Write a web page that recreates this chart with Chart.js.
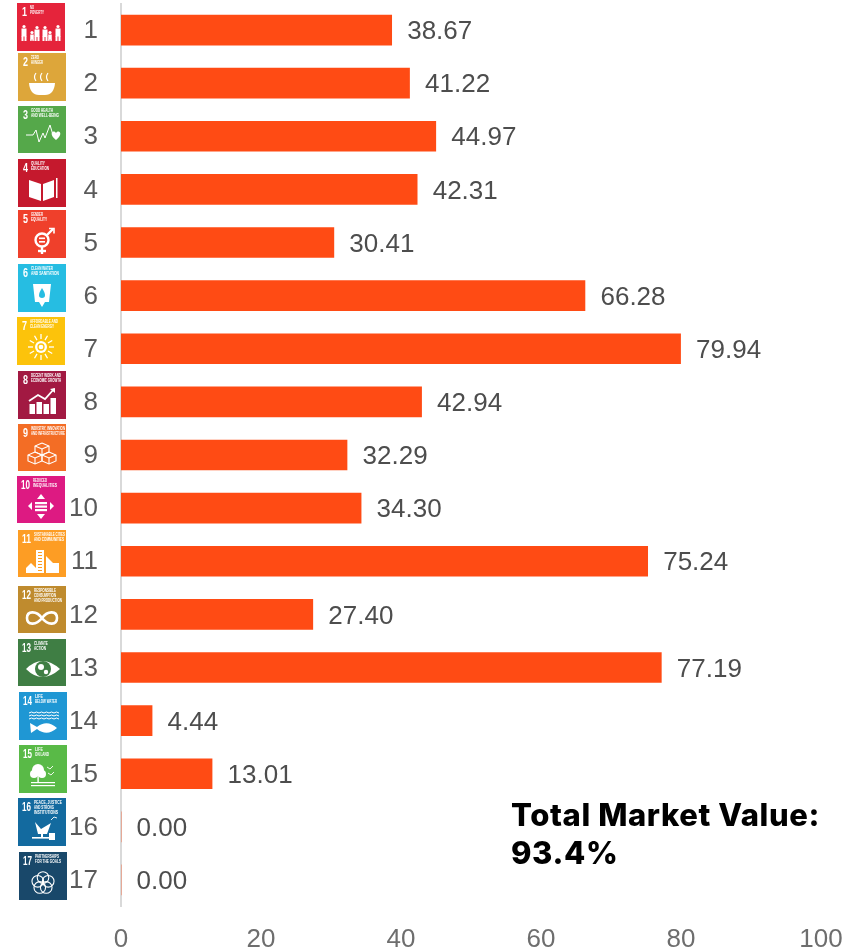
<!DOCTYPE html>
<html>

<head>
  <title>SDG Market Value</title>
  <meta charset="UTF-8">
  <style type="text/css">
    html, body { margin: 0; padding: 0; background: #fff; }
    canvas { display: block; }
  </style>
  <script src="https://cdn.jsdelivr.net/npm/chart.js"></script>
</head>

<body>
  <canvas id="graphCanvas" width="864" height="950"></canvas>

  <script>
    const goals = ['1', '2', '3', '4', '5', '6', '7', '8', '9', '10', '11', '12', '13', '14', '15', '16', '17'];
    const marketValue = [38.67, 41.22, 44.97, 42.31, 30.41, 66.28, 79.94, 42.94, 32.29, 34.30, 75.24, 27.40, 77.19, 4.44, 13.01, 0, 0];
    const xTicks = [0, 20, 40, 60, 80, 100];
    const totalLines = ['Total Market Value:', '93.4%'];

    const tileTitles = [
      ['NO', 'POVERTY'], ['ZERO', 'HUNGER'], ['GOOD HEALTH', 'AND WELL-BEING'], ['QUALITY', 'EDUCATION'],
      ['GENDER', 'EQUALITY'], ['CLEAN WATER', 'AND SANITATION'], ['AFFORDABLE AND', 'CLEAN ENERGY'],
      ['DECENT WORK AND', 'ECONOMIC GROWTH'], ['INDUSTRY, INNOVATION', 'AND INFRASTRUCTURE'],
      ['REDUCED', 'INEQUALITIES'], ['SUSTAINABLE CITIES', 'AND COMMUNITIES'],
      ['RESPONSIBLE', 'CONSUMPTION', 'AND PRODUCTION'], ['CLIMATE', 'ACTION'], ['LIFE', 'BELOW WATER'],
      ['LIFE', 'ON LAND'], ['PEACE, JUSTICE', 'AND STRONG', 'INSTITUTIONS'], ['PARTNERSHIPS', 'FOR THE GOALS']
    ];
    const tileColors = ['#E5243B', '#DDA63A', '#55A84A', '#C5192D', '#EF402B', '#26BDE2', '#FCC30B', '#A21942', '#F36D25',
      '#DD1A82', '#FD9D24', '#BF8B2E', '#3F7E44', '#1F97D4', '#59BA47', '#136A9F', '#19486A'];
    // left, top, height of each tile, nudged by hand
    const tileX = [17, 18, 18, 18, 18, 18, 17, 18, 18, 17, 18, 18, 18, 19, 19, 18, 19];
    const tileY = [3, 53, 106, 159, 210, 264, 317, 371, 424, 476, 530, 586, 639, 692, 745, 798, 852];
    const tileH = [48, 48, 47, 48, 48, 48, 48, 48, 47, 47, 47, 47, 47, 48, 48, 48, 48];

    const numberFont = '"Liberation Sans"';

    function circle(c, x, y, r, fill) {
      c.beginPath();
      c.arc(x, y, r, 0, Math.PI * 2);
      if (fill) c.fill(); else c.stroke();
    }

    function poly(c, pts, fill) {
      c.beginPath();
      pts.forEach(function(p, i) {
        if (i) c.lineTo(p[0], p[1]); else c.moveTo(p[0], p[1]);
      });
      if (fill) { c.closePath(); c.fill(); } else c.stroke();
    }

    function person(c, x, h, w) {
      const top = 38 - h;
      circle(c, x, top + 1.5, 1.6, true);
      c.fillRect(x - w / 2, top + 3.5, w, h * 0.5);
      c.fillRect(x - w / 2, top + 3 + h * 0.5, w * 0.4, h * 0.5 - 3);
      c.fillRect(x + w * 0.1, top + 3 + h * 0.5, w * 0.4, h * 0.5 - 3);
    }

    // one small white pictogram per goal, drawn in a 48 unit box
    const glyphs = [
      function(c) {
        [7, 15, 20, 28, 33, 41].forEach(function(x, i) {
          person(c, x, [16, 10, 15, 15, 10, 16][i], [5, 3.5, 5, 5, 3.5, 5][i]);
        });
      },
      function(c) {
        c.beginPath(); c.moveTo(11, 30); c.lineTo(37, 30); c.quadraticCurveTo(36, 42, 27, 42); c.lineTo(21, 42); c.quadraticCurveTo(12, 42, 11, 30); c.fill();
        c.lineWidth = 1.2;
        [18, 24, 30].forEach(function(x) { c.beginPath(); c.moveTo(x, 28); c.quadraticCurveTo(x - 3, 24, x, 20); c.stroke(); });
      },
      function(c) {
        c.lineWidth = 1;
        poly(c, [[8, 29], [15, 29], [18, 24], [21, 36], [25, 27], [27, 32], [32, 19], [35, 29]]);
        c.beginPath(); c.moveTo(38, 34); c.bezierCurveTo(30, 28, 35, 23, 38, 27); c.bezierCurveTo(41, 23, 46, 28, 38, 34); c.fill();
      },
      function(c) {
        c.lineWidth = 1;
        poly(c, [[11, 21], [23, 25], [23, 42], [11, 38]], true);
        poly(c, [[25, 25], [36, 21], [36, 38], [25, 42]], true);
        c.fillRect(38, 19, 1.5, 20);
      },
      function(c) {
        c.lineWidth = 2.4;
        circle(c, 24, 30, 6.5, false);
        poly(c, [[24, 37], [24, 44]]);
        poly(c, [[20, 41], [28, 41]]);
        poly(c, [[29, 25], [35, 19]]);
        c.lineWidth = 1.6;
        poly(c, [[31, 18.5], [36, 18.5], [36, 23.5]]);
        c.fillRect(21, 27.5, 6, 1.6);
        c.fillRect(21, 31, 6, 1.6);
      },
      function(c) {
        poly(c, [[15, 20], [33, 20], [31, 38], [27, 38], [24, 43], [21, 38], [17, 38]], true);
        c.fillStyle = '#26BDE2';
        c.beginPath(); c.moveTo(24, 24); c.bezierCurveTo(20, 30, 20, 34, 24, 34); c.bezierCurveTo(28, 34, 28, 30, 24, 24); c.fill();
      },
      function(c) {
        c.lineWidth = 1.3;
        for (let i = 0; i < 12; i++) {
          const a = i * Math.PI / 6;
          poly(c, [[24 + Math.cos(a) * 8, 30 + Math.sin(a) * 8], [24 + Math.cos(a) * 13, 30 + Math.sin(a) * 13]]);
        }
        circle(c, 24, 30, 6, true);
        c.strokeStyle = '#FCC30B';
        circle(c, 24, 30, 3, false);
      },
      function(c) {
        [14, 21, 28, 35].forEach(function(x, i) { c.fillRect(x - 2.5, [33, 31, 33, 27][i], 5.5, 43 - [33, 31, 33, 27][i]); });
        c.lineWidth = 1.8;
        poly(c, [[11, 30], [20, 24], [27, 28], [36, 18]]);
        poly(c, [[32, 18], [37, 17], [37, 22]], true);
      },
      function(c) {
        c.lineWidth = 1.1;
        [[24, 24], [17, 33], [31, 33]].forEach(function(p) {
          const x = p[0], y = p[1];
          poly(c, [[x, y - 5], [x + 7, y - 2], [x + 7, y + 4], [x, y + 7], [x - 7, y + 4], [x - 7, y - 2], [x, y - 5]]);
          poly(c, [[x - 7, y - 2], [x, y + 1], [x + 7, y - 2]]);
          poly(c, [[x, y + 1], [x, y + 7]]);
        });
      },
      function(c) {
        c.fillRect(18, 26, 12, 2.2);
        c.fillRect(18, 29.5, 12, 2.2);
        c.fillRect(18, 33, 12, 2.2);
        poly(c, [[24, 18], [28, 23], [20, 23]], true);
        poly(c, [[24, 43], [28, 38], [20, 38]], true);
        poly(c, [[11, 30], [15, 26], [15, 34]], true);
        poly(c, [[37, 30], [33, 26], [33, 34]], true);
      },
      function(c) {
        c.fillRect(18, 20, 8, 23);
        c.fillStyle = '#FD9D24';
        for (let y = 22; y < 42; y += 3) c.fillRect(20, y, 4, 1);
        c.fillStyle = '#fff';
        poly(c, [[28, 43], [28, 26], [35, 33], [35, 43]], true);
        poly(c, [[8, 38], [13, 33], [18, 38], [18, 43], [8, 43]], true);
        c.fillRect(35, 33, 6, 10);
      },
      function(c) {
        c.lineWidth = 2.6;
        c.beginPath();
        c.moveTo(24, 32);
        c.bezierCurveTo(18, 24, 9, 25, 9, 32);
        c.bezierCurveTo(9, 39, 18, 40, 24, 32);
        c.bezierCurveTo(30, 24, 39, 25, 39, 32);
        c.bezierCurveTo(39, 39, 30, 40, 24, 32);
        c.stroke();
      },
      function(c) {
        c.beginPath(); c.moveTo(8, 30); c.quadraticCurveTo(24, 14, 42, 30); c.quadraticCurveTo(24, 46, 8, 30); c.fill();
        c.fillStyle = '#3F7E44';
        circle(c, 25, 30, 8, true);
        c.fillStyle = '#fff';
        circle(c, 23, 28, 3, true);
        circle(c, 28, 33, 2.2, true);
      },
      function(c) {
        c.lineWidth = 1;
        [21, 24, 27].forEach(function(y) {
          c.beginPath(); c.moveTo(10, y);
          for (let x = 10; x < 38; x += 5) c.quadraticCurveTo(x + 2.5, y - 2, x + 5, y);
          c.stroke();
        });
        c.beginPath(); c.moveTo(38, 36); c.quadraticCurveTo(28, 27, 18, 35); c.lineTo(11, 31); c.lineTo(12, 41); c.lineTo(18, 37); c.quadraticCurveTo(28, 45, 38, 36); c.fill();
      },
      function(c) {
        circle(c, 19, 25, 6, true);
        circle(c, 15, 29, 4, true);
        circle(c, 23, 29, 4, true);
        c.fillRect(18.4, 30, 1.4, 8);
        c.fillRect(12, 37, 24, 1.2);
        c.fillRect(12, 40, 24, 1.2);
        c.lineWidth = 0.9;
        poly(c, [[28, 22], [31, 24], [34, 21]]);
        poly(c, [[29, 28], [32, 30], [35, 27]]);
      },
      function(c) {
        poly(c, [[17, 24], [23, 31], [33, 25], [29, 36], [20, 36]], true);
        c.fillRect(23, 36, 2, 4);
        c.fillRect(14, 39, 22, 1.6);
        c.fillRect(31, 35, 6, 7);
        c.lineWidth = 0.9;
        poly(c, [[33, 22], [36, 19], [39, 20]]);
      },
      function(c) {
        c.lineWidth = 1.1;
        for (let i = 0; i < 5; i++) {
          const a = i * Math.PI * 2 / 5 - Math.PI / 2;
          circle(c, 24 + Math.cos(a) * 5.5, 31 + Math.sin(a) * 5.5, 5.8, false);
        }
      }
    ];

    function drawTile(c, i) {
      const x = tileX[i], y = tileY[i], h = tileH[i];
      c.save();
      c.fillStyle = tileColors[i];
      c.fillRect(x, y, 48, h);
      c.translate(x, y);
      c.fillStyle = '#fff';
      c.strokeStyle = '#fff';
      c.textAlign = 'left';
      c.textBaseline = 'top';
      const wide = goals[i].length > 1;
      // no condensed face around, fillText squeezes to the width given
      c.font = 'bold 13px "Liberation Sans"';
      c.fillText(goals[i], wide ? 4 : 5, 3, wide ? 9 : 5);
      c.font = 'bold 4.5px "Liberation Sans"';
      const nx = wide ? 16 : 13;
      tileTitles[i].forEach(function(line, n) {
        c.fillText(line, nx, 3 + n * 5, Math.min(line.length * 2, 48 - nx - 1));
      });
      glyphs[i](c);
      c.restore();
    }

    const sdgTiles = {
      id: 'sdgTiles',
      afterDraw: function(chart) {
        goals.forEach(function(g, i) { drawTile(chart.ctx, i); });
      }
    };

    // value next to each bar end
    const valueLabels = {
      id: 'valueLabels',
      afterDatasetsDraw: function(chart) {
        const c = chart.ctx;
        c.save();
        c.font = '26px ' + numberFont;
        c.fillStyle = '#4D4D4D';
        c.textAlign = 'left';
        c.textBaseline = 'middle';
        chart.getDatasetMeta(0).data.forEach(function(bar, i) {
          c.fillText(marketValue[i].toFixed(2), bar.x + 15.5, bar.y + 2);
        });
        c.restore();
      }
    };

    const totalNote = {
      id: 'totalNote',
      afterDraw: function(chart) {
        const c = chart.ctx;
        c.save();
        c.font = '800 31px Inter';
        c.letterSpacing = '0.6px';
        c.fillStyle = '#000';
        c.textAlign = 'left';
        c.textBaseline = 'middle';
        totalLines.forEach(function(line, i) {
          c.fillText(line, 511, 817 + i * 38);
        });
        c.restore();
      }
    };

    new Chart(document.getElementById('graphCanvas'), {
      type: 'bar',
      data: {
        labels: goals,
        datasets: [{
          data: marketValue,
          backgroundColor: '#FF4B14',
          barThickness: 30
        }]
      },
      options: {
        indexAxis: 'y',
        responsive: false,
        animation: false,
        layout: { padding: { top: 3.5, right: 43, left: 0, bottom: 0 } },
        plugins: { legend: { display: false }, tooltip: { enabled: false } },
        scales: {
          x: {
            min: 0,
            max: 100,
            afterBuildTicks: function(axis) {
              axis.ticks = xTicks.map(function(v) { return { value: v }; });
            },
            afterFit: function(axis) { axis.height = 43.5; },
            grid: { display: false },
            border: { display: false },
            ticks: { padding: 10, color: '#6E6E6E', font: { family: numberFont, size: 26 }, maxRotation: 0 }
          },
          y: {
            afterFit: function(axis) {
              axis.width = 121;
              axis.paddingTop = 0;
              axis.paddingBottom = 0;
            },
            grid: { display: false, drawTicks: false },
            border: { display: true, color: '#D9D9D9', width: 2 },
            ticks: { padding: 23, labelOffset: 1, color: '#5A5A5A', font: { family: numberFont, size: 26 }, autoSkip: false }
          }
        }
      },
      plugins: [valueLabels, sdgTiles, totalNote]
    });
  </script>

</body>

</html>
